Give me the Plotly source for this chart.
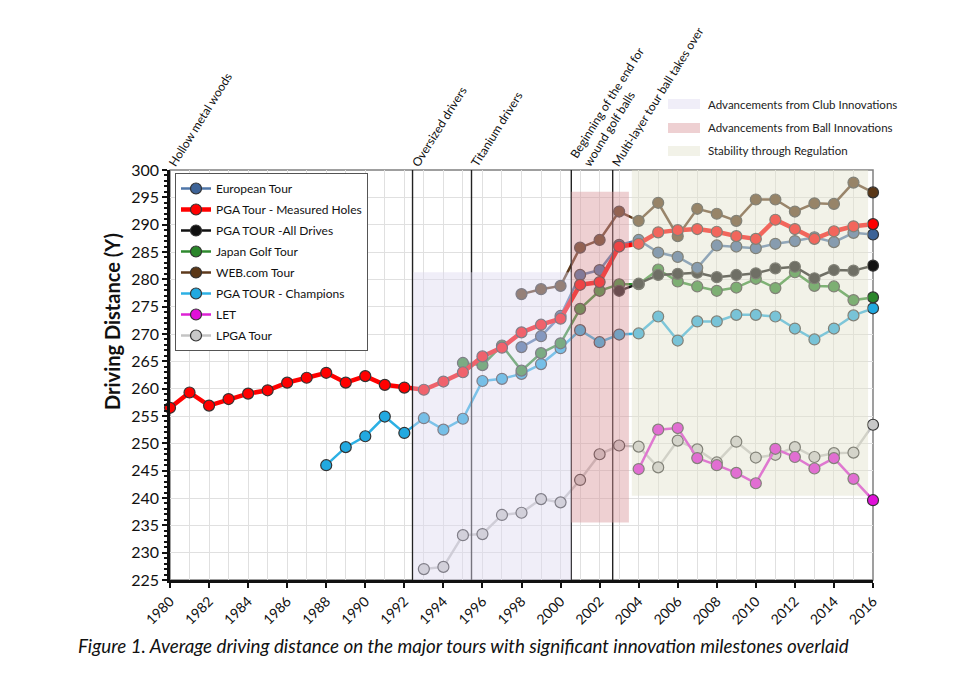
import plotly.graph_objects as go

# ---------------- data ----------------
pga_measured_years = list(range(1980, 2017))
pga_measured = [256.5, 259.3, 256.9, 258.1, 259.1, 259.7, 261.1, 262.0, 262.9, 261.1,
                262.3, 260.7, 260.2, 259.8, 261.3, 263.0, 265.9, 267.5, 270.3, 271.7,
                272.8, 279.0, 279.5, 286.0, 286.5, 288.6, 289.0, 289.2, 288.7, 287.9,
                287.4, 290.9, 289.2, 287.4, 288.8, 289.7, 290.1]

european_years = list(range(1998, 2017))
european = [267.6, 269.6, 273.3, 280.8, 281.7, 286.3, 287.2, 284.9, 284.1, 282.1,
            286.2, 286.0, 285.7, 286.5, 287.0, 287.7, 286.8, 288.5, 288.2]

all_drives_years = list(range(2003, 2017))
all_drives = [277.9, 279.2, 280.8, 281.0, 281.2, 280.4, 280.8, 281.1, 282.0, 282.3,
              280.2, 281.7, 281.6, 282.5]

japan_years = list(range(1995, 2017))
japan = [264.7, 264.3, 267.9, 263.3, 266.5, 268.3, 274.6, 277.9, 279.1, 279.1,
         281.8, 279.6, 278.7, 277.9, 278.5, 280.1, 278.4, 281.3, 278.8, 278.7,
         276.2, 276.7]

web_years = list(range(1998, 2017))
web = [277.3, 278.2, 278.8, 285.8, 287.2, 292.4, 290.7, 294.0, 287.9, 292.9,
       292.0, 290.7, 294.6, 294.6, 292.4, 293.9, 293.8, 297.7, 295.9]

champions_years = list(range(1988, 2017))
champions = [246.0, 249.3, 251.3, 254.9, 251.9, 254.6, 252.5, 254.5, 261.4, 261.8,
             262.7, 264.5, 267.4, 270.7, 268.5, 269.9, 270.1, 273.2, 268.8, 272.3,
             272.3, 273.5, 273.5, 273.2, 271.0, 269.0, 271.0, 273.4, 274.7]

let_years = list(range(2004, 2017))
let_tour = [245.3, 252.5, 252.8, 247.3, 246.0, 244.6, 242.7, 249.0, 247.5, 245.4,
            247.3, 243.5, 239.6]

lpga_years = list(range(1993, 2017))
lpga = [227.0, 227.4, 233.2, 233.4, 236.9, 237.3, 239.8, 239.2, 243.3, 248.0,
        249.6, 249.4, 245.6, 250.5, 248.9, 246.5, 250.3, 247.4, 247.9, 249.3,
        247.5, 248.2, 248.3, 253.4]

series_names = ["European Tour", "PGA Tour - Measured Holes", "PGA TOUR -All Drives",
                "Japan Golf Tour", "WEB.com Tour", "PGA TOUR - Champions", "LET", "LPGA Tour"]

milestone_years = [1980, 1992.42, 1995.44, 2000.55, 2002.67]
milestone_labels = ["Hollow metal woods", "Oversized drivers", "Titanium drivers",
                    "Beginning of the end for<br>wound golf balls",
                    "Multi-layer tour ball takes over"]
milestone_has_line = [False, True, True, True, True]

region_labels = ["Advancements from Club Innovations", "Advancements from Ball Innovations",
                 "Stability through Regulation"]
region_x0 = [1992.45, 2000.55, 2003.65]
region_x1 = [2000.55, 2003.5, 2015.75]
region_y0 = [225.0, 235.5, 240.4]
region_y1 = [281.3, 296.0, 300.0]

x_ticks = list(range(1980, 2017, 2))
y_title = "Driving Distance (Y)"
caption = "Figure 1. Average driving distance on the major tours with significant innovation milestones overlaid"

# ---------------- layout geometry ----------------
FONT = "Lato"
PAGE_OFF = 8            # default body margin of the html page
W, H = 950, 674
ML, MT, PW, PH = 162, 162, 703, 410
MR = W - ML - PW
MB = H - MT - PH


def px_to_paper_x(sx):
    return (sx - PAGE_OFF - ML) / PW


def px_to_paper_y(sy):
    return (MT + PH - (sy - PAGE_OFF)) / PH


styles = [
    dict(line="#4f76a8", fill="#3d6397", width=2.5),
    dict(line="#ff0000", fill="#ff0000", width=4.5),
    dict(line="#111111", fill="#111111", width=2.5),
    dict(line="#2f8a2f", fill="#2a862a", width=2.5),
    dict(line="#5e3a1c", fill="#5a3717", width=2.5),
    dict(line="#2cb0e4", fill="#22a9e0", width=2.5),
    dict(line="#dd22d4", fill="#e010d8", width=2.5),
    dict(line="#c4c4c4", fill="#c8c8c8", width=2.5),
]
region_colors = ["rgb(222,217,240)", "rgb(218,150,156)", "rgb(226,226,205)"]
REGION_OPACITY = 0.45

data = [
    (european_years, european),
    (pga_measured_years, pga_measured),
    (all_drives_years, all_drives),
    (japan_years, japan),
    (web_years, web),
    (champions_years, champions),
    (let_years, let_tour),
    (lpga_years, lpga),
]

fig = go.Figure()
draw_order = [7, 6, 5, 3, 2, 0, 4, 1]
for i in draw_order:
    xs, ys = data[i]
    st = styles[i]
    fig.add_trace(go.Scatter(
        x=xs, y=ys, name=series_names[i], mode="lines+markers",
        line=dict(color=st["line"], width=st["width"]),
        marker=dict(size=11, color=st["fill"], line=dict(color="#333333", width=1.2)),
        cliponaxis=False, legendrank=i + 1, legendgroup="g%d" % i,
    ))

shapes = []
shapes.append(dict(type="rect", xref="paper", yref="paper", x0=0, x1=1, y0=0, y1=1,
                   line=dict(color="#808080", width=1.5), layer="below"))
for yr, has in zip(milestone_years, milestone_has_line):
    if has:
        shapes.append(dict(type="line", xref="x", yref="paper", x0=yr, x1=yr, y0=0, y1=1,
                           line=dict(color="#222222", width=1.4), layer="above"))
for c, x0, x1, y0, y1 in zip(region_colors, region_x0, region_x1, region_y0, region_y1):
    shapes.append(dict(type="rect", xref="x", yref="y", x0=x0, x1=x1, y0=y0, y1=y1,
                       fillcolor=c, opacity=REGION_OPACITY, line=dict(width=0), layer="above"))

annotations = []
for yr, lab in zip(milestone_years, milestone_labels):
    annotations.append(dict(x=yr, y=1, xref="x", yref="paper", text=lab, showarrow=False,
                            textangle=-58, xanchor="left", yanchor="bottom", yshift=-2,
                            xshift=-7, align="left",
                            font=dict(family=FONT, size=12, color="#111111")))

legend_rows_y = [104, 128, 151]
for c, lab, ypix in zip(region_colors, region_labels, legend_rows_y):
    yp = px_to_paper_y(ypix)
    y_h = 5 / PH
    shapes.append(dict(type="rect", xref="paper", yref="paper",
                       x0=px_to_paper_x(668), x1=px_to_paper_x(700),
                       y0=yp - y_h, y1=yp + y_h, fillcolor=c, opacity=REGION_OPACITY,
                       line=dict(width=0)))
    annotations.append(dict(x=px_to_paper_x(706), y=yp, xref="paper", yref="paper",
                            text=lab, showarrow=False, xanchor="left", yanchor="middle",
                            font=dict(family=FONT, size=11.5, color="#222222")))

# y-axis title (sits above the plot's vertical centre in the reference)
annotations.append(dict(x=px_to_paper_x(112), y=px_to_paper_y(322), xref="paper", yref="paper",
                        text="<b>" + y_title + "</b>", showarrow=False, textangle=-90,
                        xanchor="center", yanchor="middle",
                        font=dict(family=FONT, size=20, color="#111111")))

annotations.append(dict(x=px_to_paper_x(463), y=px_to_paper_y(645), xref="paper", yref="paper",
                        text="<i>" + caption + "</i>", showarrow=False,
                        xanchor="center", yanchor="middle",
                        font=dict(family=FONT, size=18.8, color="#111111")))

fig.update_layout(
    width=W, height=H,
    margin=dict(l=ML, r=MR, t=MT, b=MB),
    paper_bgcolor="white", plot_bgcolor="white",
    font=dict(family=FONT, color="#111111"),
    shapes=shapes, annotations=annotations,
    legend=dict(x=px_to_paper_x(175), y=px_to_paper_y(173), xanchor="left", yanchor="top",
                bgcolor="white", bordercolor="#555555", borderwidth=1,
                font=dict(family=FONT, size=12, color="#111111"),
                itemwidth=30, tracegroupgap=2),
    showlegend=True,
)

fig.update_xaxes(
    range=[1980, 2016], tickmode="array", tickvals=x_ticks,
    ticktext=[str(v) for v in x_ticks], tickangle=-45,
    tickfont=dict(family=FONT, size=14, color="#111111"),
    showline=True, linecolor="#111111", linewidth=2.5,
    ticks="outside", ticklen=5, tickwidth=2, tickcolor="#111111",
    showgrid=True, gridcolor="#e0e0e0", gridwidth=1,
    minor=dict(dtick=1, showgrid=True, gridcolor="#e0e0e0", gridwidth=1, ticks=""),
    zeroline=False,
)
fig.update_yaxes(
    range=[225, 300], dtick=5, tick0=225,
    tickfont=dict(family=FONT, size=16, color="#111111"),
    showline=True, linecolor="#111111", linewidth=2.5,
    ticks="outside", ticklen=5, tickwidth=2, tickcolor="#111111",
    showgrid=True, gridcolor="#e0e0e0", gridwidth=1,
    minor=dict(dtick=1, ticks="outside", ticklen=3, tickwidth=1.5, tickcolor="#111111",
               showgrid=False),
    zeroline=False,
)

fig.write_html("out.html")
